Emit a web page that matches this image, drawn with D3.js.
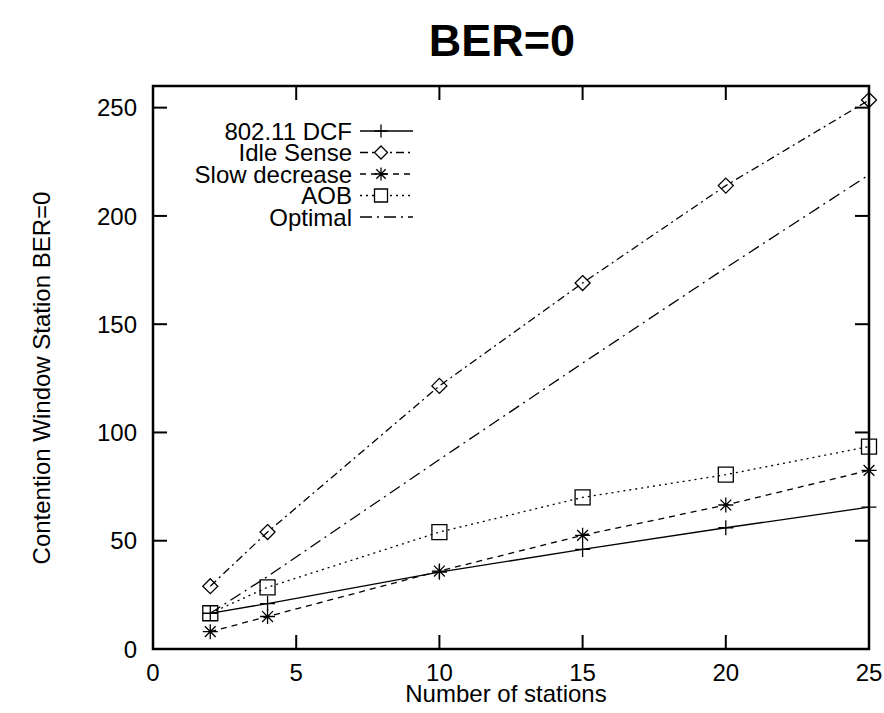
<!DOCTYPE html>
<html>
<head>
<meta charset="utf-8">
<script src="https://cdn.jsdelivr.net/npm/d3@7"></script>
<style>
  body { margin: 0; background: #fff; }
  text { font-family: "Liberation Sans", Arial, sans-serif; fill: #000; }
</style>
</head>
<body>
<svg id="chart"></svg>
<script>
const stations = [2, 4, 10, 15, 20, 25];
const dcf = [16.5, 21, 35.5, 46, 56, 65.5];
const idleSense = [29, 54, 121.5, 169, 214, 253.5];
const slowDecrease = [8, 15, 36, 52.5, 66.5, 82.5];
const aob = [16.5, 28.5, 54, 70, 80.5, 93.5];
const optimal = [16.5, 33.5, 87.5, 132, 176, 219];
const xTicks = [0, 5, 10, 15, 20, 25];
const yTicks = [0, 50, 100, 150, 200, 250];

const width = 884;
const height = 713;
const margin = { top: 86, right: 15, bottom: 64, left: 153 };
const fontSize = '24px';

const series = [
  { name: '802.11 DCF', values: dcf, dash: null, marker: 'plus' },
  { name: 'Idle Sense', values: idleSense, dash: '8,4,2,4', marker: 'diamond' },
  { name: 'Slow decrease', values: slowDecrease, dash: '6,5', marker: 'star' },
  { name: 'AOB', values: aob, dash: '2,4', marker: 'square' },
  { name: 'Optimal', values: optimal, dash: '12,5,2,5', marker: null }
];

function markerPath(type, s) {
  if (type === 'plus') return `M${-s},0H${s}M0,${-s}V${s}`;
  if (type === 'diamond') return `M0,${-s}L${s},0L0,${s}L${-s},0Z`;
  if (type === 'square') return `M${-s},${-s}H${s}V${s}H${-s}Z`;
  if (type === 'star') {
    const d = s * 0.72;
    return `M${-s},0H${s}M0,${-s}V${s}M${-d},${-d}L${d},${d}M${-d},${d}L${d},${-d}`;
  }
  return '';
}

const svg = d3.select('#chart').attr('width', width).attr('height', height);

const xScale = d3.scaleLinear()
  .domain([0, 25])
  .range([margin.left, width - margin.right]);

const yScale = d3.scaleLinear()
  .domain([0, 260])
  .range([height - margin.bottom, margin.top]);

// title
svg.append('text')
  .attr('x', 502)
  .attr('y', 56)
  .attr('text-anchor', 'middle')
  .style('font-size', '45px')
  .style('font-weight', 'bold')
  .text('BER=0');

// ticks on all four sides, pointing inward
const tickLen = 14;
const frame = svg.append('g').attr('stroke', '#000').attr('stroke-width', 2);

xTicks.forEach(t => {
  frame.append('line')
    .attr('x1', xScale(t)).attr('x2', xScale(t))
    .attr('y1', yScale(0)).attr('y2', yScale(0) - tickLen);
  frame.append('line')
    .attr('x1', xScale(t)).attr('x2', xScale(t))
    .attr('y1', yScale(260)).attr('y2', yScale(260) + tickLen);
});

yTicks.forEach(t => {
  frame.append('line')
    .attr('x1', xScale(0)).attr('x2', xScale(0) + tickLen)
    .attr('y1', yScale(t)).attr('y2', yScale(t));
  frame.append('line')
    .attr('x1', xScale(25)).attr('x2', xScale(25) - tickLen)
    .attr('y1', yScale(t)).attr('y2', yScale(t));
});

svg.append('rect')
  .attr('x', xScale(0))
  .attr('y', yScale(260))
  .attr('width', xScale(25) - xScale(0))
  .attr('height', yScale(0) - yScale(260))
  .attr('fill', 'none')
  .attr('stroke', '#000')
  .attr('stroke-width', 2.5);

// tick labels
svg.append('g')
  .selectAll('text')
  .data(xTicks)
  .enter()
  .append('text')
  .attr('x', d => xScale(d))
  .attr('y', 681)
  .attr('text-anchor', 'middle')
  .style('font-size', fontSize)
  .text(d => d);

svg.append('g')
  .selectAll('text')
  .data(yTicks)
  .enter()
  .append('text')
  .attr('x', 137)
  .attr('y', d => yScale(d))
  .attr('dy', '0.36em')
  .attr('text-anchor', 'end')
  .style('font-size', fontSize)
  .text(d => d);

// axis titles
svg.append('text')
  .attr('x', 506)
  .attr('y', 702)
  .attr('text-anchor', 'middle')
  .style('font-size', fontSize)
  .text('Number of stations');

svg.append('text')
  .attr('transform', 'translate(50, 378) rotate(-90)')
  .attr('text-anchor', 'middle')
  .style('font-size', fontSize)
  .text('Contention Window Station BER=0');

// lines + markers
const line = d3.line()
  .x((d, i) => xScale(stations[i]))
  .y(d => yScale(d));

series.forEach(s => {
  svg.append('path')
    .datum(s.values)
    .attr('d', line)
    .attr('fill', 'none')
    .attr('stroke', '#000')
    .attr('stroke-width', 1.3)
    .attr('stroke-dasharray', s.dash);

  if (s.marker) {
    svg.append('g')
      .selectAll('path')
      .data(s.values)
      .enter()
      .append('path')
      .attr('transform', (d, i) => `translate(${xScale(stations[i])},${yScale(d)})`)
      .attr('d', markerPath(s.marker, 7.5))
      .attr('fill', 'none')
      .attr('stroke', '#000')
      .attr('stroke-width', 1.3);
  }
});

// legend
const legend = svg.append('g')
  .selectAll('g')
  .data(series)
  .enter()
  .append('g')
  .attr('transform', (d, i) => `translate(0, ${131 + i * 21.5})`);

legend.append('text')
  .attr('x', 352)
  .attr('dy', '0.36em')
  .attr('text-anchor', 'end')
  .style('font-size', fontSize)
  .text(d => d.name);

legend.append('line')
  .attr('x1', 360)
  .attr('x2', 413)
  .attr('stroke', '#000')
  .attr('stroke-width', 1.3)
  .attr('stroke-dasharray', d => d.dash);

legend.filter(d => d.marker)
  .append('path')
  .attr('transform', 'translate(381, 0)')
  .attr('d', d => markerPath(d.marker, 6.5))
  .attr('fill', '#fff')
  .attr('stroke', '#000')
  .attr('stroke-width', 1.3);
</script>
</body>
</html>
